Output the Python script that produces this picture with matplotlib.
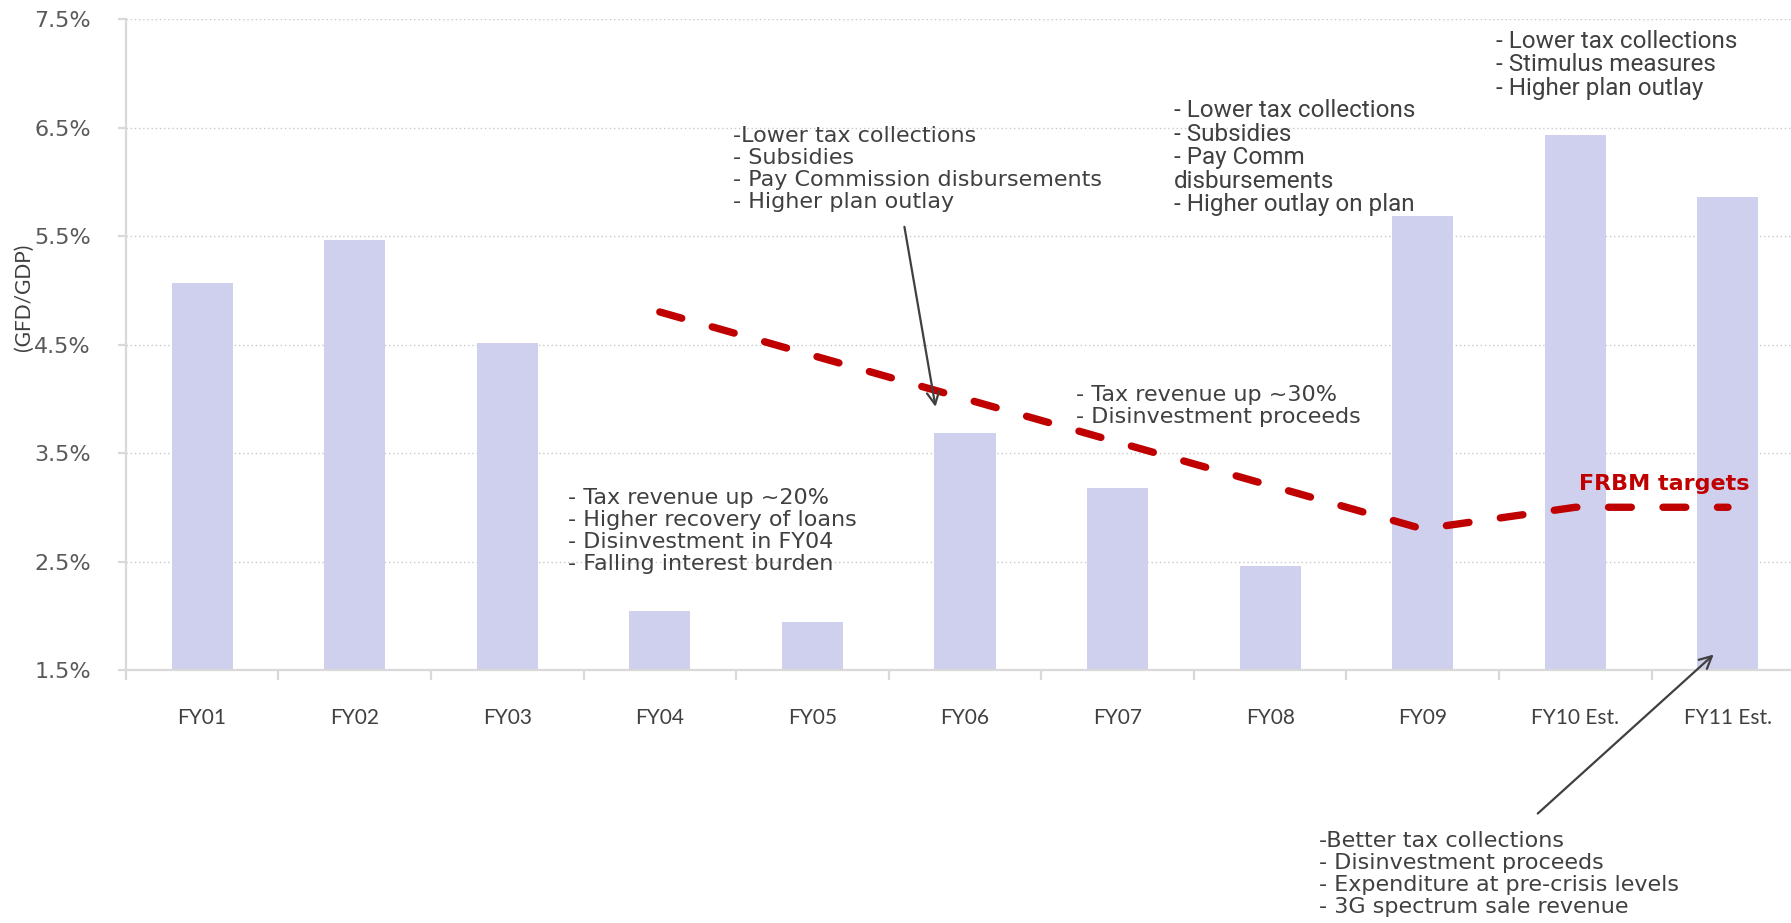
import numpy as np
import matplotlib.pyplot as plt
from matplotlib import font_manager

# ---- data (GFD as % of GDP) ----
years = ["FY01", "FY02", "FY03", "FY04", "FY05", "FY06",
         "FY07", "FY08", "FY09", "FY10 Est.", "FY11 Est."]
gfd = [5.07, 5.46, 4.51, 2.04, 1.94, 3.68, 3.18, 2.46, 5.68, 6.43, 5.86]

# FRBM target path, FY04 .. FY11
frbm_years = years[3:]
frbm = [4.8, 4.4, 4.0, 3.6, 3.2, 2.8, 3.0, 3.0]

yticks = [1.5, 2.5, 3.5, 4.5, 5.5, 6.5, 7.5]

# ---- fonts ----
names = {f.name for f in font_manager.fontManager.ttflist}
narrow = "Roboto" if "Roboto" in names else "DejaVu Sans"
calib = "Lato" if "Lato" in names else "DejaVu Sans"

txt_col = "#404040"
grid_col = "#D9D9D9"
bar_col = "#CFD0EE"
red = "#C00000"

fig = plt.figure(figsize=(17.91, 9.23), dpi=100)
ax = fig.add_axes([0.0702, 0.2741, 0.9372, 0.7053])

x = np.arange(len(years))
ax.bar(x, gfd, width=0.4, color=bar_col, zorder=2)

xf = [years.index(y) for y in frbm_years]
ax.plot(xf, frbm, color=red, lw=5.3, dashes=(3.1, 4.3),
        dash_capstyle="round", zorder=3)

ax.set_xlim(-0.5, len(years) - 0.5)
ax.set_ylim(1.5, 7.5)
ax.set_yticks(yticks)
ax.set_yticklabels([f"{v:.1f}%" for v in yticks])
ax.set_xticks(x)
ax.set_xticklabels(years)
ax.set_xticks(np.arange(-0.5, len(years), 1.0), minor=True)

ax.grid(axis="y", color="#C8C8C8", ls=(0, (1, 2)), lw=1.0, zorder=0)
for s in ["top", "right"]:
    ax.spines[s].set_visible(False)
for s in ["left", "bottom"]:
    ax.spines[s].set_color(grid_col)
    ax.spines[s].set_linewidth(1.6)

ax.tick_params(axis="x", which="major", length=0, pad=27,
               labelsize=15, labelcolor=txt_col)
ax.tick_params(axis="x", which="minor", length=7, width=1.6,
               color=grid_col, direction="out")
ax.tick_params(axis="y", length=6, width=1.6, color=grid_col, pad=19,
               labelsize=16, labelcolor="#595959")
for lab in ax.get_xticklabels():
    lab.set_family(calib)
for lab in ax.get_yticklabels():
    lab.set_family("DejaVu Sans")

fig.text(0.0135, 0.678, "(GFD/GDP)", rotation=90, ha="center", va="center",
         fontsize=15, color=txt_col, family=calib)

# ---- annotations ----
kw = dict(fontsize=16, color=txt_col, ha="left", va="center",
          linespacing=1.13, clip_on=False, zorder=5)
nkw = {**kw, "fontsize": 17.5, "linespacing": 1.03, "family": narrow}

ax.text(2.40, 2.78, "- Tax revenue up ~20%\n- Higher recovery of loans\n"
        "- Disinvestment in FY04\n- Falling interest burden",
        family="DejaVu Sans", **kw)
ax.text(3.48, 6.12, "-Lower tax collections\n- Subsidies\n"
        "- Pay Commission disbursements\n- Higher plan outlay",
        family="DejaVu Sans", **kw)
ax.text(5.73, 3.93, "- Tax revenue up ~30%\n- Disinvestment proceeds",
        family="DejaVu Sans", **kw)
ax.text(6.37, 6.22, "- Lower tax collections\n- Subsidies\n- Pay Comm\n"
        "disbursements\n- Higher outlay on plan", **nkw)
ax.text(8.48, 7.08, "- Lower tax collections\n- Stimulus measures\n"
        "- Higher plan outlay", **nkw)
ax.text(7.32, -0.38, "-Better tax collections\n- Disinvestment proceeds\n"
        "- Expenditure at pre-crisis levels\n- 3G spectrum sale revenue",
        family="DejaVu Sans", **kw)

ax.text(9.585, 3.21, "FRBM targets", fontsize=16, fontweight="bold",
        color=red, ha="center", va="center", family="DejaVu Sans", zorder=5)

arrow = dict(arrowstyle="->", color="#404040", lw=1.6, mutation_scale=22)
ax.annotate("", xy=(4.81, 3.9), xytext=(4.60, 5.61),
            arrowprops=arrow, annotation_clip=False)
ax.annotate("", xy=(9.92, 1.66), xytext=(8.74, 0.16),
            arrowprops=arrow, annotation_clip=False)

fig.savefig("out.png", dpi=100)
